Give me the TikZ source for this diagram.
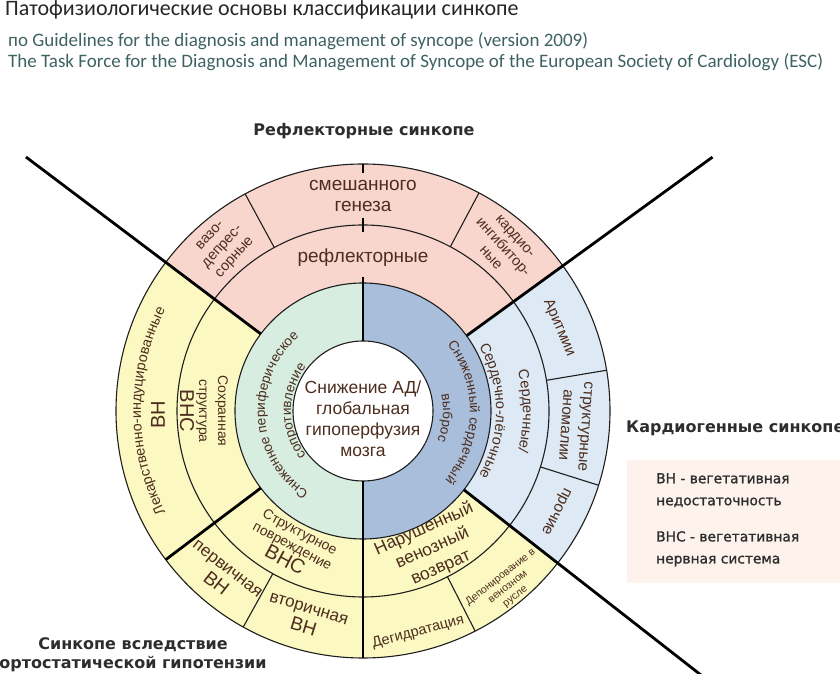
\documentclass[tikz,border=0pt]{standalone}
\usepackage{fontspec}
\setmainfont{Liberation Sans}
\newfontfamily\titlefont{Carlito}
\newfontfamily\labfont{DejaVu Sans}
\newfontfamily\legfont[FakeBold=1.2]{DejaVu Sans}
\usetikzlibrary{decorations.text}
\definecolor{pinkf}{RGB}{249,214,205}
\definecolor{yelf}{RGB}{252,248,193}
\definecolor{greenf}{RGB}{214,237,223}
\definecolor{blued}{RGB}{168,190,219}
\definecolor{bluel}{RGB}{221,233,244}
\definecolor{legf}{RGB}{253,243,236}
\definecolor{txt}{RGB}{76,45,30}
\definecolor{lab}{RGB}{45,45,45}
\definecolor{subc}{RGB}{62,98,98}
\definecolor{edge}{RGB}{30,30,30}
\newcommand{\fs}[2]{\fontsize{#1bp}{#2bp}\selectfont}
\tikzset{
  thinl/.style={draw=edge, line width=1.1bp},
  thickl/.style={draw=black, line width=2.8bp},
  seg/.style={text=txt, align=center, inner sep=0pt},
  arctext/.style={decorate, decoration={text along path, text align=center, text color=txt, text={#1}}},
  sectlab/.style={font=\labfont\bfseries\fs{16}{19.5}, text=lab, inner sep=0pt},
  legtext/.style={anchor=north west, align=left, inner sep=0pt, font=\legfont\fs{13.8}{22}, text=lab},
}
\begin{document}
\begin{tikzpicture}[x=1bp,y=1bp]
\useasboundingbox (0,0) rectangle (840,674);
\begin{scope}[shift={(363,263)}]
\coordinate (O) at (0,0);
% fills
\fill[pinkf] (36:247) arc[start angle=36,end angle=143,radius=247] -- (143:128) arc[start angle=143,end angle=36,radius=128] -- cycle;
\fill[bluel] (-38:247) arc[start angle=-38,end angle=36,radius=247] -- (36:128) arc[start angle=36,end angle=-38,radius=128] -- cycle;
\fill[yelf] (143:247) arc[start angle=143,end angle=322,radius=247] -- (322:128) arc[start angle=322,end angle=143,radius=128] -- cycle;
\fill[greenf] (0,128) arc[start angle=90,end angle=270,radius=128] -- cycle;
\fill[blued] (0,-128) arc[start angle=-90,end angle=90,radius=128] -- cycle;
\fill[white] (O) circle[radius=70];
% thin outlines
\draw[thinl] (O) circle[radius=70];
\draw[thinl] (O) circle[radius=128];
\draw[thinl] (O) circle[radius=186];
\draw[thinl] (O) circle[radius=247];
\foreach \a in {118.5,62,9.5,-17.5,-63,241} \draw[thinl] (\a:186) -- (\a:247);
% thick dividers
\draw[thickl] (143:128) -- (143:422);
\draw[thickl] (36:128) -- (36:432);
\draw[thickl] (-38:128) -- (-38:520);
\draw[thickl] (217:128) -- (217:247);
\draw[thickl] (0,70) -- (0,134);
\draw[thickl] (0,179) -- (0,193);
\draw[thickl] (0,238) -- (0,247);
\draw[thickl] (0,-70) -- (0,-247);
% centre
\node[seg, font=\fs{17.5}{21}] (centre) at (0,-8) {Снижение АД/\\глобальная\\гипоперфузия\\мозга};
% inner ring (curved text)
\begin{scope}
\fs{13.5}{16}
\path[arctext={Сниженное периферическое}] (250:98) arc[start angle=250,end angle=117,radius=98];
\path[arctext={сопротивление}] (245:72) arc[start angle=245,end angle=115,radius=72];
\path[arctext={Сниженный сердечный}] (64:107) arc[start angle=64,end angle=-66,radius=107];
\path[arctext={выброс}] (60:80) arc[start angle=60,end angle=-70,radius=80];
\end{scope}
% top (reflex)
\node[seg, font=\fs{19}{21}] (refl) at (0,153) {рефлекторные};
\node[seg, font=\fs{19}{21}] (mixed) at (0,215) {смешанного\\генеза};
\node[seg, font=\fs{14.5}{16.5}, rotate=48] (vaso) at (-140,164) {вазо-\\депрес-\\сорные};
\node[seg, font=\fs{14.5}{16.5}, rotate=-48] (cardio) at (140,164) {кардио-\\ингибитор-\\ные};
% left
\begin{scope}
\fs{14.3}{16}
\path[arctext={Лекарственно-индуцированные}] (245:222) arc[start angle=245,end angle=115,radius=222];
\end{scope}
\node[seg, font=\fs{20}{22}, rotate=90] (vn1) at (-205,-4) {ВН};
\node[seg, font=\fs{14}{19}, rotate=-90] (sohr) at (-159,0) {Сохранная\\структура\\\fs{20}{22}ВНС};
% right
\begin{scope}
\fs{14.5}{16}
\path[arctext={Сердечные/}] (65:160) arc[start angle=65,end angle=-65,radius=160];
\path[arctext={Сердечно-лёгочные}] (65:133) arc[start angle=65,end angle=-65,radius=133];
\end{scope}
\node[seg, font=\fs{15}{17}, rotate=-67] (arr) at (23:213) {Аритмии};
\node[seg, font=\fs{15.5}{20}, rotate=-94] (struct) at (-4:213) {структурные\\аномалии};
\node[seg, font=\fs{15.5}{17}, rotate=-117] (proch) at (-27.5:217) {прочие};
% bottom
\node[seg, font=\fs{14}{16}, rotate=-28] (spov) at (242.4:153) {Структурное\\повреждение\\\fs{20}{20}ВНС};
\node[seg, font=\fs{17}{20}, rotate=-38] (perv) at (229.5:218) {первичная\\\fs{19}{20}ВН};
\node[seg, font=\fs{17}{20}, rotate=-17] (vtor) at (254.6:215) {вторичная\\\fs{19}{20}ВН};
\node[seg, font=\fs{17.5}{21}, rotate=24] (narush) at (296.8:154) {Нарушенный\\венозный\\возврат};
\node[seg, font=\fs{14.5}{16}, rotate=15] (degid) at (284:228) {Дегидратация};
\node[seg, font=\fs{10.5}{12}, rotate=38] (depon) at (309.5:228) {Депонирование в\\венозном\\русле};
\end{scope}
% section labels
\node[sectlab] (reflab) at (364,543) {Рефлекторные синкопе};
\node[sectlab, anchor=west] (cardlab) at (626,246) {Кардиогенные синкопе};
\node[sectlab, align=center] (orthlab) at (133,19.5) {Синкопе вследствие\\ортостатической гипотензии};
% legend
\fill[legf] (627,91) rectangle (840,214);
\node[legtext] (leg1) at (656,201) {ВН - вегетативная\\недостаточность};
\node[legtext] (leg2) at (656,143) {ВНС - вегетативная\\нервная система};
% title
\node[anchor=base west, inner sep=0pt, font=\titlefont\fs{22}{26}, text=black!85] (title) at (5,658) {Патофизиологические основы классификации синкопе};
\node[anchor=base west, inner sep=0pt, font=\titlefont\fs{19}{22}, text=subc] (sub1) at (8,627) {по Guidelines for the diagnosis and management of syncope (version 2009)};
\node[anchor=base west, inner sep=0pt, font=\titlefont\fs{19}{22}, text=subc] (sub2) at (8,606) {The Task Force for the Diagnosis and Management of Syncope of the European Society of Cardiology (ESC)};
\end{tikzpicture}
\end{document}
